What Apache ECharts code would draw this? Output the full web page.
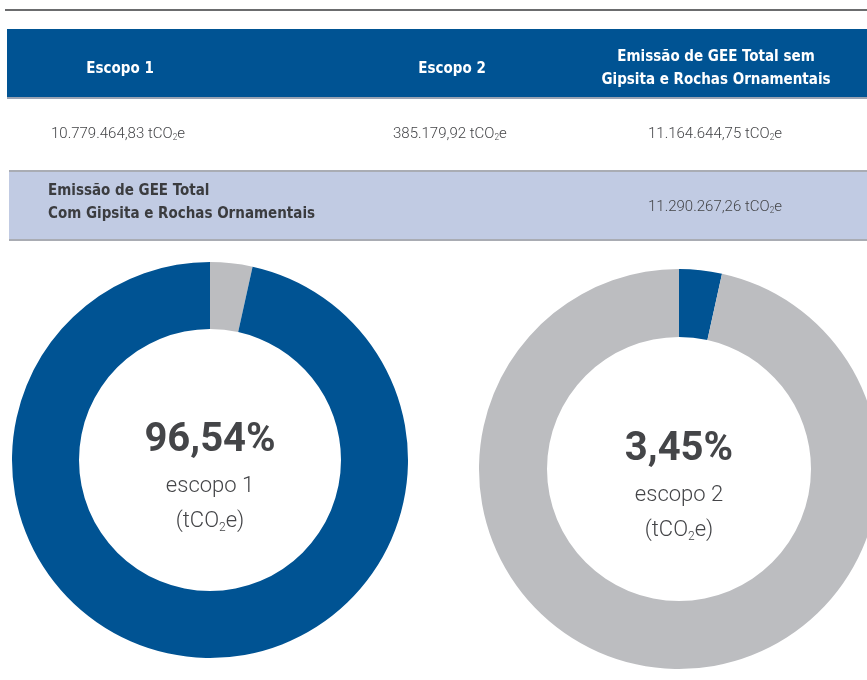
<!DOCTYPE html>
<html>
<head>
<meta charset="utf-8">
<script src="https://cdn.jsdelivr.net/npm/echarts@6/dist/echarts.min.js"></script>
<style>
    html, body { margin: 0; padding: 0; background: #fff; }
    #chart { width: 867px; height: 680px; }
</style>
</head>
<body>
<div id="chart"></div>
<script>
/*数据start*/
const headerLabels = ['Escopo 1', 'Escopo 2', 'Emissão de GEE Total sem\nGipsita e Rochas Ornamentais']
const rowValues = ['10.779.464,83', '385.179,92', '11.164.644,75']
const totalLabel = 'Emissão de GEE Total\nCom Gipsita e Rochas Ornamentais'
const totalValue = '11.290.267,26'
const scopeNames = ['escopo 1', 'escopo 2']
const scopeValues = [10779464.83, 385179.92]
const scopePercents = ['96,54%', '3,45%']
/*数据end*/

const BLUE = '#005393'
const GREY = '#bcbdc0'
const TXT = '#444548'
const condensed = '"Liberation Sans Narrow", "DejaVu Sans Condensed", "Roboto", sans-serif'
const thin = '"Roboto", "Noto Sans", sans-serif'

// tCO2e with subscript 2
function unitRich(size) {
    return {
        n: { fontFamily: thin, fontWeight: 300, fontSize: size, fill: TXT },
        s: { fontFamily: thin, fontWeight: 300, fontSize: size * 0.55, fill: TXT, padding: [size * 0.55, 0, 0, 0] }
    }
}
function unitText(v) {
    return `{n|${v} tCO}{s|2}{n|e}`
}

let chart = echarts.init(document.getElementById('chart'), null, { renderer: 'canvas' })

let graphics = []
// top line
graphics.push({ type: 'rect', shape: { x: 5, y: 9, width: 862, height: 2 }, style: { fill: '#6b6c6e' } })
// header
graphics.push({ type: 'rect', shape: { x: 7, y: 29, width: 860, height: 69 }, style: { fill: BLUE } })
graphics.push({ type: 'rect', shape: { x: 7, y: 97, width: 860, height: 2 }, style: { fill: '#9aa3b3' } })
const headerX = [120, 452, 716]
headerLabels.forEach((t, i) => {
    graphics.push({
        type: 'text', x: headerX[i], y: 69,
        style: {
            text: t, fill: '#fff', font: `bold 15px ${condensed}`,
            align: 'center', verticalAlign: 'middle', lineHeight: 23
        }
    })
})
// values row
const valueX = [51, 393, 648]
rowValues.forEach((v, i) => {
    graphics.push({
        type: 'text', x: valueX[i], y: 134,
        style: { text: unitText(v), rich: unitRich(15), verticalAlign: 'middle', align: 'left' }
    })
})
// total row
graphics.push({ type: 'rect', shape: { x: 9, y: 171, width: 858, height: 69 }, style: { fill: '#c1cbe3' } })
graphics.push({ type: 'rect', shape: { x: 9, y: 170, width: 858, height: 2 }, style: { fill: '#a9acb3' } })
graphics.push({ type: 'rect', shape: { x: 9, y: 239, width: 858, height: 2 }, style: { fill: '#a9acb3' } })
graphics.push({
    type: 'text', x: 48, y: 203,
    style: {
        text: totalLabel, fill: '#3b3c3f', font: `bold 15px ${condensed}`,
        verticalAlign: 'middle', align: 'left', lineHeight: 23
    }
})
graphics.push({
    type: 'text', x: 648, y: 207,
    style: { text: unitText(totalValue), rich: unitRich(15), verticalAlign: 'middle', align: 'left' }
})

// center texts
const centers = [[210, 460], [679, 469]]
centers.forEach((c, i) => {
    graphics.push({
        type: 'text', x: c[0], y: c[1] - 19,
        style: { text: scopePercents[i], fill: TXT, font: `bold 40px ${thin}`, align: 'center', verticalAlign: 'middle' }
    })
    graphics.push({
        type: 'text', x: c[0], y: c[1] + 26,
        style: { text: scopeNames[i], fill: TXT, font: `300 22px ${thin}`, align: 'center', verticalAlign: 'middle' }
    })
    graphics.push({
        type: 'text', x: c[0], y: c[1] + 61,
        style: {
            text: '{n|(tCO}{s|2}{n|e)}',
            rich: {
                n: { fontFamily: thin, fontWeight: 300, fontSize: 22, fill: TXT },
                s: { fontFamily: thin, fontWeight: 300, fontSize: 12, fill: TXT, padding: [14, 0, 0, 0] }
            },
            align: 'center', verticalAlign: 'middle'
        }
    })
})

let option = {
    animation: false,
    graphic: graphics,
    series: [
        {
            type: 'pie',
            center: centers[0],
            radius: [131, 198],
            startAngle: 90,
            clockwise: true,
            silent: true,
            label: { show: false },
            labelLine: { show: false },
            data: [
                { name: scopeNames[1], value: scopeValues[1], itemStyle: { color: GREY } },
                { name: scopeNames[0], value: scopeValues[0], itemStyle: { color: BLUE } }
            ]
        },
        {
            type: 'pie',
            center: centers[1],
            radius: [132, 200],
            startAngle: 90,
            clockwise: true,
            silent: true,
            label: { show: false },
            labelLine: { show: false },
            data: [
                { name: scopeNames[1], value: scopeValues[1], itemStyle: { color: BLUE } },
                { name: scopeNames[0], value: scopeValues[0], itemStyle: { color: GREY } }
            ]
        }
    ]
}
chart.setOption(option)
</script>
</body>
</html>
